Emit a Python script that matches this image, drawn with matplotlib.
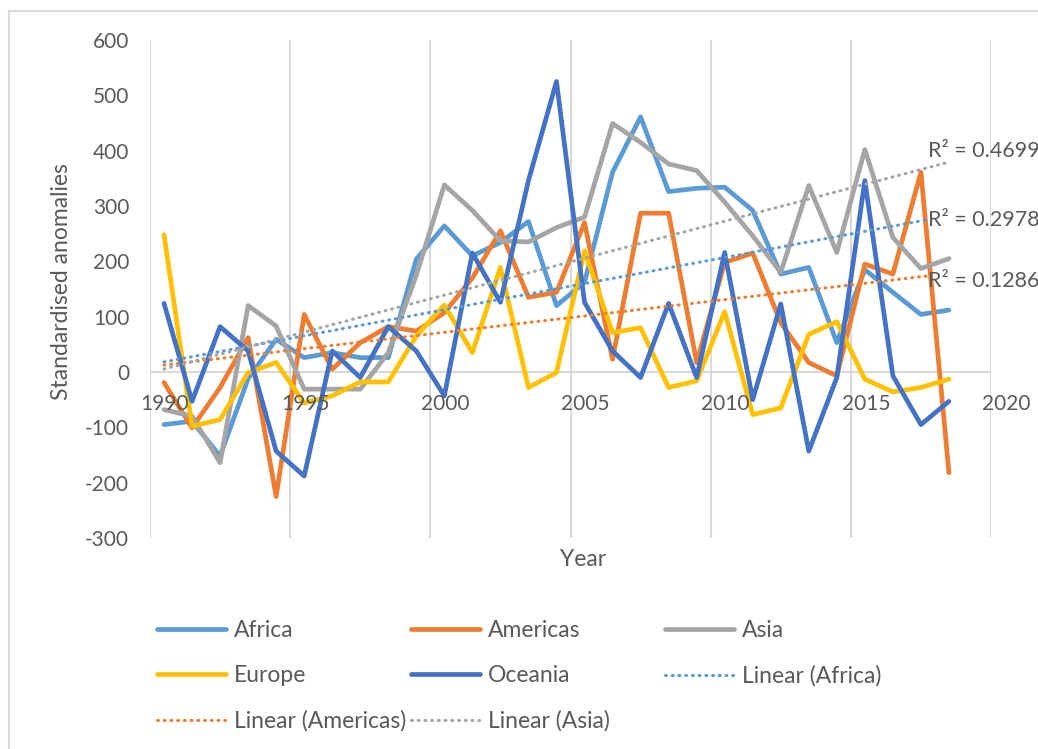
import numpy as np
import matplotlib.pyplot as plt
from matplotlib import transforms
from matplotlib.patches import Rectangle

plt.rcParams['font.family'] = ['Lato', 'DejaVu Sans']
plt.rcParams['axes.unicode_minus'] = False

# data (one value per year, 1990-2018)
years = np.arange(1990, 2019)
africa = [-95, -89, -152, -12, 59, 26, 35, 26, 26, 204, 264, 210, 234, 272, 120, 162,
          361, 461, 326, 332, 334, 292, 177, 189, 53, 185, 144, 104, 112]
americas = [-19, -101, -28, 62, -225, 104, 5, 53, 82, 74, 107, 170, 255, 135, 144, 270,
            23, 287, 287, 17, 198, 215, 89, 17, -7, 195, 177, 361, -182]
asia = [-68, -80, -164, 120, 83, -31, -31, -31, 35, 175, 338, 292, 237, 235, 261, 280,
        449, 415, 376, 364, 307, 246, 180, 337, 216, 402, 243, 187, 205]
europe = [248, -98, -86, -1, 17, -56, -43, -18, -18, 65, 121, 35, 189, -28, -1, 219,
          71, 80, -28, -16, 109, -77, -65, 68, 91, -13, -36, -28, -13]
oceania = [124, -53, 82, 38, -143, -188, 38, -10, 82, 38, -43, 215, 126, 346, 525, 126,
           38, -10, 124, -10, 216, -50, 123, -143, -10, 346, -7, -95, -53]

series = [('Africa', africa, '#5B9BD5'), ('Americas', americas, '#ED7D31'),
          ('Asia', asia, '#A5A5A5'), ('Europe', europe, '#FFC000'),
          ('Oceania', oceania, '#4472C4')]
trend_names = ['Africa', 'Americas', 'Asia']
r2_labels = {'Asia': 'R² = 0.4699', 'Africa': 'R² = 0.2978', 'Americas': 'R² = 0.1286'}
r2_pos = {'Asia': 400, 'Africa': 275, 'Americas': 164}
trend_end = {'Asia': 2018.5, 'Africa': 2017.7, 'Americas': 2017.7}

txt = '#595959'
grid = '#D9D9D9'
fs_num = 15
fs_word = 16.5

fig = plt.figure(figsize=(10.38, 7.49), dpi=100)
fig.patches.append(Rectangle((9 / 1038, -0.1), 2, 1.1 - 11 / 749, transform=fig.transFigure,
                             fill=False, edgecolor=grid, lw=1.5))
ax = fig.add_axes([150 / 1038, 1 - 538 / 749, 841 / 1038, 498 / 749])
ax.set_xlim(1990, 2020)
ax.set_ylim(-300, 600)
for s in ax.spines.values():
    s.set_visible(False)

ax.set_xticks(range(1990, 2021, 5))
ax.set_xticklabels([])
ax.tick_params(axis='x', length=0)
ax.grid(axis='x', color=grid, lw=1.5)
ax.axhline(0, color=grid, lw=1.5, zorder=0.5)
ax.set_yticks(range(-300, 700, 100))
ax.tick_params(axis='y', length=0, pad=15, labelsize=fs_num, labelcolor=txt)

off = transforms.offset_copy(ax.transData, fig=fig, x=15, y=-32, units='dots')
for yr in range(1990, 2021, 5):
    ax.text(yr, 0, str(yr), transform=off, ha='center', va='center', fontsize=fs_num, color=txt)

x = years + 0.5
lines = {}
for name, vals, col in series:
    lines[name], = ax.plot(x, vals, color=col, lw=3.4, solid_joinstyle='round',
                           solid_capstyle='round', label=name, zorder=2)

for name, vals, col in series:
    if name not in trend_names:
        continue
    k, b = np.polyfit(x, vals, 1)
    tx = np.array([x[0], trend_end[name]])
    lines['Linear (%s)' % name], = ax.plot(tx, k * tx + b, color=col, lw=2.2,
                                           ls=(0, (0.3, 1.9)), dash_capstyle='round',
                                           label='Linear (%s)' % name, zorder=3)
    ax.text(2017.76, r2_pos[name], r2_labels[name], fontsize=fs_num + 0.5, color=txt,
            ha='left', va='center', clip_on=False)

fig.text(62 / 1038, 1 - 282 / 749, 'Standardised anomalies', rotation=90,
         ha='center', va='center', fontsize=fs_word, color=txt)
fig.text(583 / 1038, 1 - 560 / 749, 'Year', ha='center', va='center', fontsize=fs_word, color=txt)

cols = [(157, ['Africa', 'Europe', 'Linear (Americas)']),
        (411, ['Americas', 'Oceania', 'Linear (Asia)']),
        (665, ['Asia', 'Linear (Africa)'])]
for xpx, names in cols:
    fig.legend([lines[n] for n in names], names, loc='upper left',
               bbox_to_anchor=(xpx / 1038, 1 - 620 / 749), frameon=False,
               fontsize=fs_word, labelcolor=txt, handlelength=3.0, handletextpad=0.35,
               labelspacing=1.05, borderpad=0, borderaxespad=0)

fig.savefig('out.png', dpi=100)
